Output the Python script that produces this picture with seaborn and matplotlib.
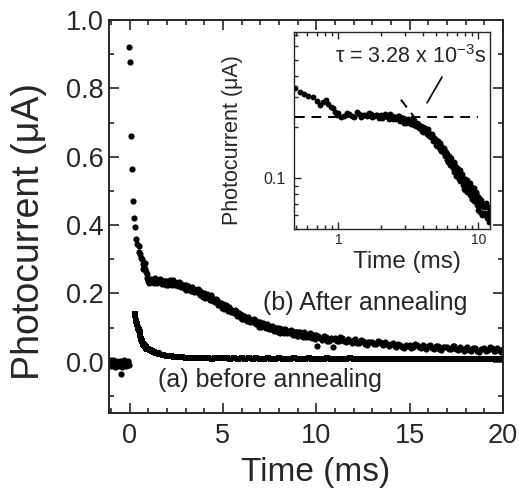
import numpy as np
import matplotlib
matplotlib.use("Agg")
import matplotlib.pyplot as plt
import seaborn as sns
from matplotlib.ticker import MultipleLocator, LogLocator, NullFormatter

# ---------------- data ----------------
# (b) after annealing: baseline before the pulse, fast drop, slow decay
b_base_t = [-1.05, -1.0, -0.95, -0.9, -0.85, -0.8, -0.75, -0.7, -0.65, -0.6, -0.55,
            -0.5, -0.45, -0.4, -0.35, -0.3, -0.25, -0.2, -0.15, -0.1, -0.08, -0.02]
b_base_i = [0.005, -0.012, -0.008, 0.004, 0.002, -0.015, -0.012, 0.003, -0.004, -0.014,
            -0.010, 0.002, -0.035, -0.016, -0.006, 0.004, 0.000, -0.013, -0.009, 0.001,
            -0.003, -0.011]

b_fast_t = [-0.05, 0.0, 0.08, 0.13, 0.2, 0.25, 0.3, 0.36, 0.42, 0.49, 0.53, 0.57, 0.61,
            0.66, 0.7, 0.74, 0.78, 0.81, 0.85, 0.88, 0.91, 0.95, 0.98]
b_fast_i = [0.922, 0.878, 0.662, 0.563, 0.470, 0.420, 0.393, 0.360, 0.345, 0.338, 0.320,
            0.315, 0.305, 0.300, 0.285, 0.270, 0.280, 0.290, 0.272, 0.262, 0.258, 0.245,
            0.235]

b_slow_t = [1.0, 1.1, 1.2, 1.3, 1.4, 1.5, 1.6, 1.7, 1.8, 1.9,
            2.0, 2.1, 2.2, 2.3, 2.4, 2.5, 2.6, 2.7, 2.8, 2.9,
            3.0, 3.1, 3.2, 3.3, 3.4, 3.5, 3.6, 3.7, 3.8, 3.9,
            4.0, 4.1, 4.2, 4.3, 4.4, 4.5, 4.6, 4.7, 4.8, 4.9,
            5.0, 5.1, 5.2, 5.3, 5.4, 5.5, 5.6, 5.7, 5.8, 5.9,
            6.0, 6.1, 6.2, 6.3, 6.4, 6.5, 6.6, 6.7, 6.8, 6.9,
            7.0, 7.1, 7.2, 7.3, 7.4, 7.5, 7.6, 7.7, 7.8, 7.9,
            8.0, 8.1, 8.2, 8.3, 8.4, 8.5, 8.6, 8.7, 8.8, 8.9,
            9.0, 9.1, 9.2, 9.3, 9.4, 9.5, 9.6, 9.7, 9.8, 9.9,
            10.0, 10.05, 10.2, 10.4, 10.6, 10.8, 10.9, 11.0, 11.2, 11.4, 11.6, 11.8,
            12.0, 12.2, 12.4, 12.6, 12.8, 13.0, 13.2, 13.4, 13.6, 13.8,
            14.0, 14.2, 14.4, 14.6, 14.8, 15.0, 15.2, 15.4, 15.6, 15.8,
            16.0, 16.2, 16.4, 16.6, 16.8, 17.0, 17.2, 17.4, 17.6, 17.8,
            18.0, 18.2, 18.4, 18.6, 18.8, 19.0, 19.2, 19.4, 19.6, 19.8, 20.0]
b_slow_i = [0.242, 0.233, 0.238, 0.230, 0.238, 0.235, 0.232, 0.240, 0.231, 0.237,
            0.237, 0.228, 0.233, 0.224, 0.232, 0.228, 0.223, 0.231, 0.221, 0.225,
            0.224, 0.213, 0.217, 0.207, 0.214, 0.209, 0.203, 0.209, 0.198, 0.202,
            0.200, 0.189, 0.192, 0.181, 0.187, 0.181, 0.174, 0.180, 0.168, 0.171,
            0.168, 0.156, 0.159, 0.148, 0.154, 0.148, 0.142, 0.148, 0.137, 0.140,
            0.138, 0.126, 0.130, 0.119, 0.126, 0.120, 0.115, 0.122, 0.112, 0.116,
            0.115, 0.104, 0.108, 0.098, 0.105, 0.100, 0.096, 0.103, 0.094, 0.098,
            0.098, 0.087, 0.092, 0.083, 0.091, 0.087, 0.083, 0.091, 0.082, 0.087,
            0.087, 0.077, 0.082, 0.073, 0.081, 0.077, 0.073, 0.081, 0.072, 0.077,
            0.077, 0.047, 0.068, 0.074, 0.062, 0.068, 0.044, 0.069, 0.062, 0.069, 0.058, 0.061,
            0.063, 0.056, 0.063, 0.052, 0.058, 0.059, 0.052, 0.059, 0.048, 0.051,
            0.053, 0.046, 0.052, 0.042, 0.048, 0.049, 0.043, 0.050, 0.040, 0.043,
            0.046, 0.039, 0.047, 0.036, 0.043, 0.044, 0.038, 0.045, 0.035, 0.038,
            0.041, 0.034, 0.041, 0.031, 0.037, 0.039, 0.033, 0.040, 0.030, 0.033, 0.036]

# (b) interleaved samples between the ones above
b_mid_t = [1.05, 1.15, 1.25, 1.35, 1.45, 1.55, 1.65, 1.75, 1.85, 1.95,
           2.05, 2.15, 2.25, 2.35, 2.45, 2.55, 2.65, 2.75, 2.85, 2.95,
           3.05, 3.15, 3.25, 3.35, 3.45, 3.55, 3.65, 3.75, 3.85, 3.95,
           4.05, 4.15, 4.25, 4.35, 4.45, 4.55, 4.65, 4.75, 4.85, 4.95,
           5.05, 5.15, 5.25, 5.35, 5.45, 5.55, 5.65, 5.75, 5.85, 5.95,
           6.05, 6.15, 6.25, 6.35, 6.45, 6.55, 6.65, 6.75, 6.85, 6.95,
           7.05, 7.15, 7.25, 7.35, 7.45, 7.55, 7.65, 7.75, 7.85, 7.95,
           8.05, 8.15, 8.25, 8.35, 8.45, 8.55, 8.65, 8.75, 8.85, 8.95,
           9.05, 9.15, 9.25, 9.35, 9.45, 9.55, 9.65, 9.75, 9.85, 9.95,
           10.1, 10.3, 10.5, 10.7, 10.9, 11.1, 11.3, 11.5, 11.7, 11.9,
           12.1, 12.3, 12.5, 12.7, 12.9, 13.1, 13.3, 13.5, 13.7, 13.9,
           14.1, 14.3, 14.5, 14.7, 14.9, 15.1, 15.3, 15.5, 15.7, 15.9,
           16.1, 16.3, 16.5, 16.7, 16.9, 17.1, 17.3, 17.5, 17.7, 17.9,
           18.1, 18.3, 18.5, 18.7, 18.9, 19.1, 19.3, 19.5, 19.7, 19.9]
b_mid_i = [0.230, 0.243, 0.233, 0.244, 0.230, 0.237, 0.242, 0.228, 0.237, 0.225,
           0.225, 0.238, 0.228, 0.238, 0.224, 0.229, 0.233, 0.218, 0.226, 0.212,
           0.211, 0.222, 0.211, 0.220, 0.205, 0.210, 0.212, 0.196, 0.203, 0.189,
           0.187, 0.198, 0.186, 0.194, 0.178, 0.181, 0.183, 0.166, 0.173, 0.157,
           0.155, 0.165, 0.153, 0.161, 0.145, 0.149, 0.151, 0.135, 0.142, 0.127,
           0.125, 0.135, 0.124, 0.132, 0.117, 0.121, 0.124, 0.109, 0.117, 0.103,
           0.102, 0.113, 0.102, 0.111, 0.096, 0.102, 0.105, 0.091, 0.099, 0.086,
           0.085, 0.097, 0.087, 0.097, 0.083, 0.089, 0.093, 0.079, 0.088, 0.075,
           0.075, 0.087, 0.077, 0.087, 0.073, 0.079, 0.083, 0.069, 0.078, 0.065,
           0.076, 0.063, 0.071, 0.060, 0.067, 0.061, 0.071, 0.061, 0.067, 0.055,
           0.066, 0.054, 0.061, 0.050, 0.057, 0.051, 0.061, 0.051, 0.057, 0.045,
           0.056, 0.043, 0.050, 0.040, 0.047, 0.041, 0.052, 0.042, 0.049, 0.037,
           0.049, 0.037, 0.045, 0.034, 0.042, 0.036, 0.047, 0.037, 0.044, 0.032,
           0.044, 0.032, 0.039, 0.029, 0.036, 0.031, 0.042, 0.032, 0.039, 0.027]

# (a) before annealing
a_t = [0.27, 0.31, 0.36, 0.41, 0.45, 0.50, 0.54, 0.58, 0.62, 0.67, 0.71, 0.76, 0.81,
       0.86, 0.90, 0.95, 1.0, 1.1, 1.2, 1.3, 1.4, 1.5, 1.6, 1.8, 2.0, 2.2, 2.4, 2.6,
       2.8, 3.0,
       3.2, 3.4, 3.6, 3.8, 4.0, 4.2, 4.4, 4.6, 4.8, 5.0,
       5.2, 5.4, 5.6, 5.8, 6.0, 6.2, 6.4, 6.6, 6.8, 7.0,
       7.2, 7.4, 7.6, 7.8, 8.0, 8.2, 8.4, 8.6, 8.8, 9.0,
       9.2, 9.4, 9.6, 9.8, 10.0, 10.2, 10.4, 10.6, 10.8, 11.0,
       11.2, 11.4, 11.6, 11.8, 12.0, 12.2, 12.4, 12.6, 12.8, 13.0,
       13.2, 13.4, 13.6, 13.8, 14.0, 14.2, 14.4, 14.6, 14.8, 15.0,
       15.2, 15.4, 15.6, 15.8, 16.0, 16.2, 16.4, 16.6, 16.8, 17.0,
       17.2, 17.4, 17.6, 17.8, 18.0, 18.2, 18.4, 18.6, 18.8, 19.0,
       19.2, 19.4, 19.6, 19.8, 20.0]
a_i = [0.140, 0.136, 0.120, 0.110, 0.100, 0.092, 0.087, 0.078, 0.067, 0.060, 0.052,
       0.048, 0.045, 0.043, 0.041, 0.038, 0.036, 0.033, 0.030, 0.028, 0.026, 0.024,
       0.023, 0.020, 0.018, 0.016, 0.015, 0.014, 0.013, 0.012,
       0.012, 0.010, 0.011, 0.012, 0.010, 0.011, 0.009, 0.011, 0.010, 0.010,
       0.010, 0.009, 0.011, 0.009, 0.010, 0.008, 0.010, 0.009, 0.010, 0.009,
       0.009, 0.010, 0.008, 0.009, 0.010, 0.008, 0.009, 0.008, 0.010, 0.009,
       0.008, 0.009, 0.010, 0.008, 0.009, 0.008, 0.009, 0.010, 0.008, 0.009,
       0.008, 0.009, 0.008, 0.010, 0.008, 0.009, 0.008, 0.009, 0.008, 0.009,
       0.008, 0.009, 0.008, 0.007, 0.009, 0.008, 0.009, 0.008, 0.007, 0.009,
       0.008, 0.007, 0.009, 0.008, 0.008, 0.007, 0.009, 0.008, 0.007, 0.008,
       0.008, 0.007, 0.009, 0.008, 0.007, 0.008, 0.009, 0.007, 0.008, 0.008,
       0.007, 0.008, 0.009, 0.007, 0.008]

# inset: fitted plateau level and decay line (log-log)
plateau_i = 0.23
plateau_t = [0.49, 10.0]
fit_t = [2.8, 4.7]
fit_i = [0.29, 0.165]
pointer_t = [5.5, 4.3]
pointer_i = [0.395, 0.278]
tau_label = r"τ = 3.28 x 10$^{-3}$s"

# ---------------- plotting ----------------
sns.set_style("ticks")
plt.rcParams['font.family'] = ['Liberation Sans', 'DejaVu Sans']
plt.rcParams['mathtext.fontset'] = 'custom'
plt.rcParams['mathtext.rm'] = 'Liberation Sans'
plt.rcParams['mathtext.it'] = 'Liberation Sans:italic'

t_b = b_base_t + b_fast_t + b_slow_t + b_mid_t
i_b = b_base_i + b_fast_i + b_slow_i + b_mid_i

fig = plt.figure(figsize=(5.19, 4.91), dpi=100)
ax = fig.add_axes([0.210, 0.159, 0.759, 0.800])

sns.scatterplot(x=t_b, y=i_b, ax=ax, color='black', s=20, marker='o', linewidth=0)
sns.scatterplot(x=a_t, y=a_i, ax=ax, color='black', s=15, marker='s', linewidth=0)

ax.set_xlim(-1.1, 20)
ax.set_ylim(-0.15, 1.0)
ax.xaxis.set_major_locator(MultipleLocator(5))
ax.xaxis.set_minor_locator(MultipleLocator(1))
ax.yaxis.set_major_locator(MultipleLocator(0.2))
ax.yaxis.set_minor_locator(MultipleLocator(0.1))
ax.set_yticks([0.0, 0.2, 0.4, 0.6, 0.8, 1.0], ['0.0', '0.2', '0.4', '0.6', '0.8', '1.0'])
ax.tick_params(which='both', direction='in', top=True, right=True, width=1.2)
ax.tick_params(which='major', length=7, labelsize=19.5)
ax.tick_params(which='minor', length=3.5)
ax.tick_params(axis='x', pad=7)
ax.tick_params(axis='y', pad=4)
for sp in ax.spines.values():
    sp.set_linewidth(1.4)
ax.set_xlabel('Time (ms)', fontsize=24, va='top')
ax.set_ylabel('Photocurrent (μA)', fontsize=27)
ax.xaxis.set_label_coords(0.525, -0.112)
ax.yaxis.set_label_coords(-0.157, 0.463)

ax.text(12.6, 0.172, '(b) After annealing', fontsize=18, ha='center', va='center')
ax.text(7.5, -0.055, '(a) before annealing', fontsize=18, ha='center', va='center')

# inset (log-log view of curve b)
ins = fig.add_axes([0.566, 0.534, 0.378, 0.401])
t_b_arr = np.array(t_b)
i_b_arr = np.array(i_b)
keep = (t_b_arr >= 0.48) & (t_b_arr <= 12.1)
sns.scatterplot(x=t_b_arr[keep], y=i_b_arr[keep], ax=ins, color='black', s=18,
                marker='o', linewidth=0)
ins.plot(plateau_t, [plateau_i, plateau_i], color='black', lw=1.4, ls=(0, (5, 3.5)))
ins.plot(fit_t, fit_i, color='black', lw=1.4, ls=(0, (5, 3.5)))
ins.plot(pointer_t, pointer_i, color='black', lw=1.2)
ins.set_xscale('log')
ins.set_yscale('log')
ins.set_xlim(0.48, 12.1)
ins.set_ylim(0.05, 0.73)
ins.set_xticks([1, 10], ['1', '10'])
ins.xaxis.set_minor_locator(LogLocator(base=10, subs=np.arange(2, 10)))
ins.xaxis.set_minor_formatter(NullFormatter())
ins.set_yticks([0.1], ['0.1'])
ins.yaxis.set_minor_locator(LogLocator(base=10, subs=np.arange(2, 10)))
ins.yaxis.set_minor_formatter(NullFormatter())
ins.tick_params(which='both', direction='in', top=True, right=False, width=1.0)
ins.tick_params(which='major', length=5)
ins.tick_params(which='minor', length=3)
ins.tick_params(axis='x', labelsize=10, pad=3)
ins.tick_params(axis='y', labelsize=11.5, pad=6)
for sp in ins.spines.values():
    sp.set_linewidth(1.0)
ins.set_xlabel('Time (ms)', fontsize=17.5, va='top')
ins.set_ylabel('Photocurrent (μA)', fontsize=15.5)
ins.xaxis.set_label_coords(0.577, -0.112)
ins.yaxis.set_label_coords(-0.26, 0.452)
ins.text(3.27, 0.52, tau_label, fontsize=15.5, ha='center', va='center')

fig.savefig('out.png', dpi=100)
